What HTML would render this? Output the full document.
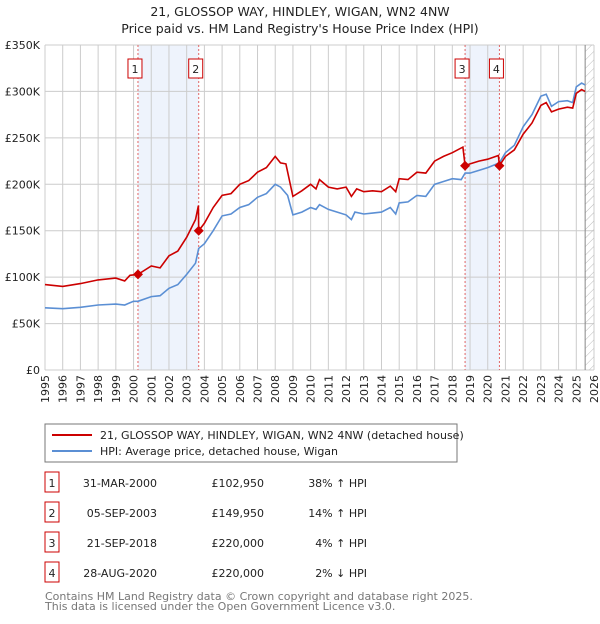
<!DOCTYPE html>
<html><head><meta charset="utf-8"><style>
body{margin:0;background:#fff;font-family:"DejaVu Sans","Liberation Sans",sans-serif;}
svg text{font-family:"DejaVu Sans","Liberation Sans",sans-serif;}
</style></head><body>
<svg id="c" width="600" height="620" xmlns="http://www.w3.org/2000/svg">
<defs><pattern id="h" width="6" height="6" patternUnits="userSpaceOnUse" patternTransform="rotate(45)"><line x1="0" y1="0" x2="0" y2="6" stroke="#bbb" stroke-width="1"/></pattern></defs>
<text x="300" y="16" text-anchor="middle" font-size="12.5" fill="#222">21, GLOSSOP WAY, HINDLEY, WIGAN, WN2 4NW</text>
<text x="300" y="33" text-anchor="middle" font-size="12.5" fill="#222">Price paid vs. HM Land Registry's House Price Index (HPI)</text>
<g id="plot"></g>
<rect x="45" y="424" width="412" height="38" fill="#fff" stroke="#777"/>
<line x1="52" y1="435" x2="92" y2="435" stroke="#cc0000" stroke-width="2"/>
<text x="100" y="439" font-size="11" fill="#222">21, GLOSSOP WAY, HINDLEY, WIGAN, WN2 4NW (detached house)</text>
<line x1="52" y1="451" x2="92" y2="451" stroke="#5b8fd4" stroke-width="2"/>
<text x="100" y="455" font-size="11" fill="#222">HPI: Average price, detached house, Wigan</text>
<g id="tbl" font-size="11" fill="#222"></g>
<text x="45" y="600" font-size="11" fill="#777">Contains HM Land Registry data © Crown copyright and database right 2025.</text>
<text x="45" y="610" font-size="11" fill="#777">This data is licensed under the Open Government Licence v3.0.</text>
</svg>
<script>
const hpiT=[1995,1996,1997,1998,1999,1999.5,2000,2000.25,2001,2001.5,2002,2002.5,2003,2003.5,2003.68,2004,2004.5,2005,2005.5,2006,2006.5,2007,2007.5,2008,2008.3,2008.7,2009,2009.5,2010,2010.3,2010.5,2011,2011.5,2012,2012.3,2012.5,2013,2013.5,2014,2014.5,2014.8,2015,2015.5,2016,2016.5,2017,2017.5,2018,2018.5,2018.72,2019,2019.5,2020,2020.66,2021,2021.5,2022,2022.5,2023,2023.3,2023.6,2024,2024.5,2024.8,2025,2025.3,2025.5];
const hpiV=[67,66,67.5,70,71,70,74,74,79,80,88,92,103,115,131,136,150,166,168,175,178,186,190,200,197,188,167,170,175,173,178,173,170,167,162,170,168,169,170,175,168,180,181,188,187,200,203,206,205,212,212,215,218,223,234,242,262,275,295,297,284,289,290,288,305,309,307];
const redT=[1995,1996,1997,1998,1999,1999.5,1999.8,2000.25,2001,2001.5,2002,2002.5,2003,2003.5,2003.66,2003.68,2004,2004.5,2005,2005.5,2006,2006.5,2007,2007.5,2008,2008.3,2008.6,2009,2009.5,2010,2010.3,2010.5,2011,2011.5,2012,2012.3,2012.6,2013,2013.5,2014,2014.5,2014.8,2015,2015.5,2016,2016.5,2017,2017.5,2018,2018.6,2018.72,2019,2019.5,2020,2020.6,2020.66,2021,2021.5,2022,2022.5,2023,2023.3,2023.6,2024,2024.5,2024.8,2025,2025.3,2025.5];
const redV=[92,90,93,97,99,96,102,103,112,110,123,128,143,162,177,150,158,175,188,190,200,204,213,218,230,223,222,187,193,200,195,205,197,195,197,187,195,192,193,192,198,192,206,205,213,212,225,230,234,240,220,222,225,227,231,220,230,237,254,266,285,288,278,281,283,282,298,302,300];
const saleT=[2000.25,2003.68,2018.72,2020.66];
const saleV=[102.95,149.95,220,220];
const saleLbl=["1","2","3","4"];
const saleDate=["31-MAR-2000","05-SEP-2003","21-SEP-2018","28-AUG-2020"];
const salePrice=["£102,950","£149,950","£220,000","£220,000"];
const saleHpi=["38% ↑ HPI","14% ↑ HPI","4% ↑ HPI","2% ↓ HPI"];
const yTicks=[0,50,100,150,200,250,300,350];
const yLabels=["£0","£50K","£100K","£150K","£200K","£250K","£300K","£350K"];
const years=[];for(let y=1995;y<=2026;y++)years.push(y);
const X0=45,X1=594,Y0=370,Y1=45;
const sx=t=>X0+(t-1995)*(X1-X0)/31;
const sy=v=>Y0-v*(Y0-Y1)/350;
const NS="http://www.w3.org/2000/svg";
const g=document.getElementById('plot');
function mk(tag,a,p){const e=document.createElementNS(NS,tag);for(const k in a)e.setAttribute(k,a[k]);(p||g).appendChild(e);return e;}
let e;
e=mk('rect',{x:sx(saleT[0]),y:Y1,width:sx(saleT[1])-sx(saleT[0]),height:Y0-Y1,fill:'#eef3fc'});


e=mk('rect',{x:sx(saleT[2]),y:Y1,width:sx(saleT[3])-sx(saleT[2]),height:Y0-Y1,fill:'#eef3fc'});


years.forEach(y=>{e=mk('line',{x1:sx(y),x2:sx(y),y1:Y1,y2:Y0,stroke:'#ccc'});


const x=sx(y)+4,yy=Y0+5;
const t=mk('text',{x:x,y:yy,'text-anchor':'end','font-size':'11',fill:'#222',transform:`rotate(-90 ${x} ${yy})`});t.textContent=y;

});
yTicks.forEach((v,i)=>{e=mk('line',{x1:X0,x2:X1,y1:sy(v),y2:sy(v),stroke:'#ccc'});


const t=mk('text',{x:X0-5,y:sy(v)+4,'text-anchor':'end','font-size':'11',fill:'#222'});t.textContent=yLabels[i];

});
e=mk('rect',{x:sx(2025.5),y:Y1,width:X1-sx(2025.5),height:Y0-Y1,fill:'url(#h)'});


e=mk('line',{x1:sx(2025.5),x2:sx(2025.5),y1:Y1,y2:Y0,stroke:'#888'});


saleT.forEach((t,i)=>{e=mk('line',{x1:sx(t),x2:sx(t),y1:Y1,y2:Y0,stroke:'#e06666','stroke-dasharray':'2,2'});


const cx=i==0||i==2?sx(t)-3:sx(t)-3;
e=mk('rect',{x:cx-7,y:59,width:14,height:19,fill:'#fff',stroke:'#cc0000'});


const tx=mk('text',{x:cx,y:73,'text-anchor':'middle','font-size':'11',fill:'#222'});tx.textContent=saleLbl[i];

});
const pts=(T,V)=>T.map((t,i)=>sx(t).toFixed(1)+','+sy(V[i]).toFixed(1)).join(' ');
e=mk('polyline',{points:pts(hpiT,hpiV),fill:'none',stroke:'#5b8fd4','stroke-width':1.6});


e=mk('polyline',{points:pts(redT,redV),fill:'none',stroke:'#cc0000','stroke-width':1.6});


saleT.forEach((t,i)=>{const x=sx(t),y=sy(saleV[i]);e=mk('polygon',{points:`${x},${y-5} ${x+5},${y} ${x},${y+5} ${x-5},${y}`,fill:'#cc0000'});

});
const tb=document.getElementById('tbl');
saleT.forEach((t,i)=>{const y=483+i*30;
e=mk('rect',{x:45,y:y-11,width:14,height:20,fill:'#fff',stroke:'#cc0000'},tb);


[[52,saleLbl[i],'middle'],[157,saleDate[i],'end'],[264,salePrice[i],'end'],[367,saleHpi[i],'end']].forEach(c=>{const tx=mk('text',{x:c[0],y:y+4,'text-anchor':c[2]},tb);tx.textContent=c[1];

});});
</script>
</body></html>
